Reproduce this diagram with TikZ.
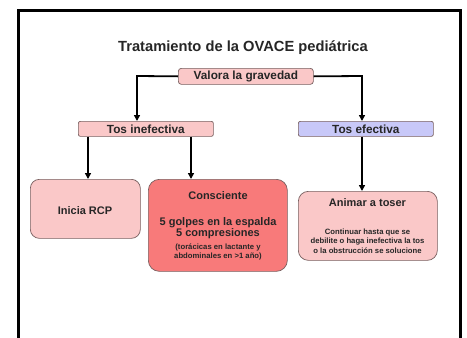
\documentclass[tikz,border=0pt]{standalone}
\usepackage{fontspec}
\setmainfont{Liberation Sans}
\usetikzlibrary{arrows.meta}
\definecolor{pinklight}{RGB}{250,200,200}
\definecolor{redbox}{RGB}{248,122,122}
\definecolor{lavender}{RGB}{200,200,248}
\definecolor{boxline}{RGB}{120,95,95}
\begin{document}
\begin{tikzpicture}[x=1pt,y=-1pt,
  box/.style={draw=boxline,line width=0.7pt,inner sep=0pt,anchor=north west},
  lbl/.style={font=\bfseries,inner sep=0pt,text=black!85},
  big/.style={font=\bfseries\fontsize{11.8}{14}\selectfont},
  mid/.style={font=\bfseries\fontsize{11}{13}\selectfont},
  sml/.style={font=\bfseries\fontsize{7.7}{9}\selectfont},
  conn/.style={line width=1.8pt,-{Triangle[length=6pt,width=6pt]}}]
\useasboundingbox (0,0) rectangle (467,338);
\fill[white] (0,0) rectangle (467,338);
\begin{scope}
\clip (0,0) rectangle (467,338);
\draw[line width=3pt] (18,10) rectangle (460,360);
\end{scope}
\node[lbl,font=\bfseries\fontsize{14.7}{17}\selectfont] (title) at (243,48) {Tratamiento de la OVACE pediátrica};
% boxes
\node[box,fill=pinklight,rounded corners=3pt,minimum width=135pt,minimum height=16pt] (valora) at (178,68) {};
\node[lbl,big] (valoraT) at (valora.center) {Valora la gravedad};
\node[box,fill=pinklight,rounded corners=2pt,minimum width=135pt,minimum height=15pt] (tin) at (78,121) {};
\node[lbl,big] (tinT) at (tin.center) {Tos inefectiva};
\node[box,fill=lavender,rounded corners=2pt,minimum width=135pt,minimum height=15pt] (tef) at (298,121) {};
\node[lbl,big] (tefT) at (tef.center) {Tos efectiva};
\node[box,fill=pinklight,rounded corners=9pt,minimum width=110pt,minimum height=59pt] (rcp) at (30,179) {};
\node[lbl,mid] (rcpT) at (85,211) {Inicia RCP};
\node[box,fill=redbox,rounded corners=11pt,minimum width=139pt,minimum height=92pt] (cons) at (148,179) {};
\node[lbl,mid] (c1) at (218,196) {Consciente};
\node[lbl,mid] (c2) at (218,223) {5 golpes en la espalda};
\node[lbl,mid] (c3) at (218,234) {5 compresiones};
\node[lbl,sml] (c4) at (218,247) {(torácicas en lactante y};
\node[lbl,sml] (c5) at (218,257) {abdominales en >1 año)};
\node[box,fill=pinklight,rounded corners=10pt,minimum width=139pt,minimum height=69pt] (anim) at (298,191) {};
\node[lbl,mid] (a1) at (367.5,203) {Animar a toser};
\node[lbl,sml] (a2) at (367.5,233) {Continuar hasta que se};
\node[lbl,sml] (a3) at (367.5,242) {debilite o haga inefectiva la tos};
\node[lbl,sml] (a4) at (367.5,251) {o la obstrucción se solucione};
% connectors
\coordinate (vl) at (137,76);
\coordinate (vr) at (362,76);
\draw[conn] (valora.west) -- (vl) -- (vl |- tin.north);
\draw[conn] (valora.east) -- (vr) -- (vr |- tef.north);
\draw[conn] (tin.south -| 88,0) -- (88,0 |- rcp.north);
\draw[conn] (tin.south -| 191,0) -- (191,0 |- cons.north);
\draw[conn] (tef.south -| 362,0) -- (362,0 |- anim.north);
\end{tikzpicture}
\end{document}
